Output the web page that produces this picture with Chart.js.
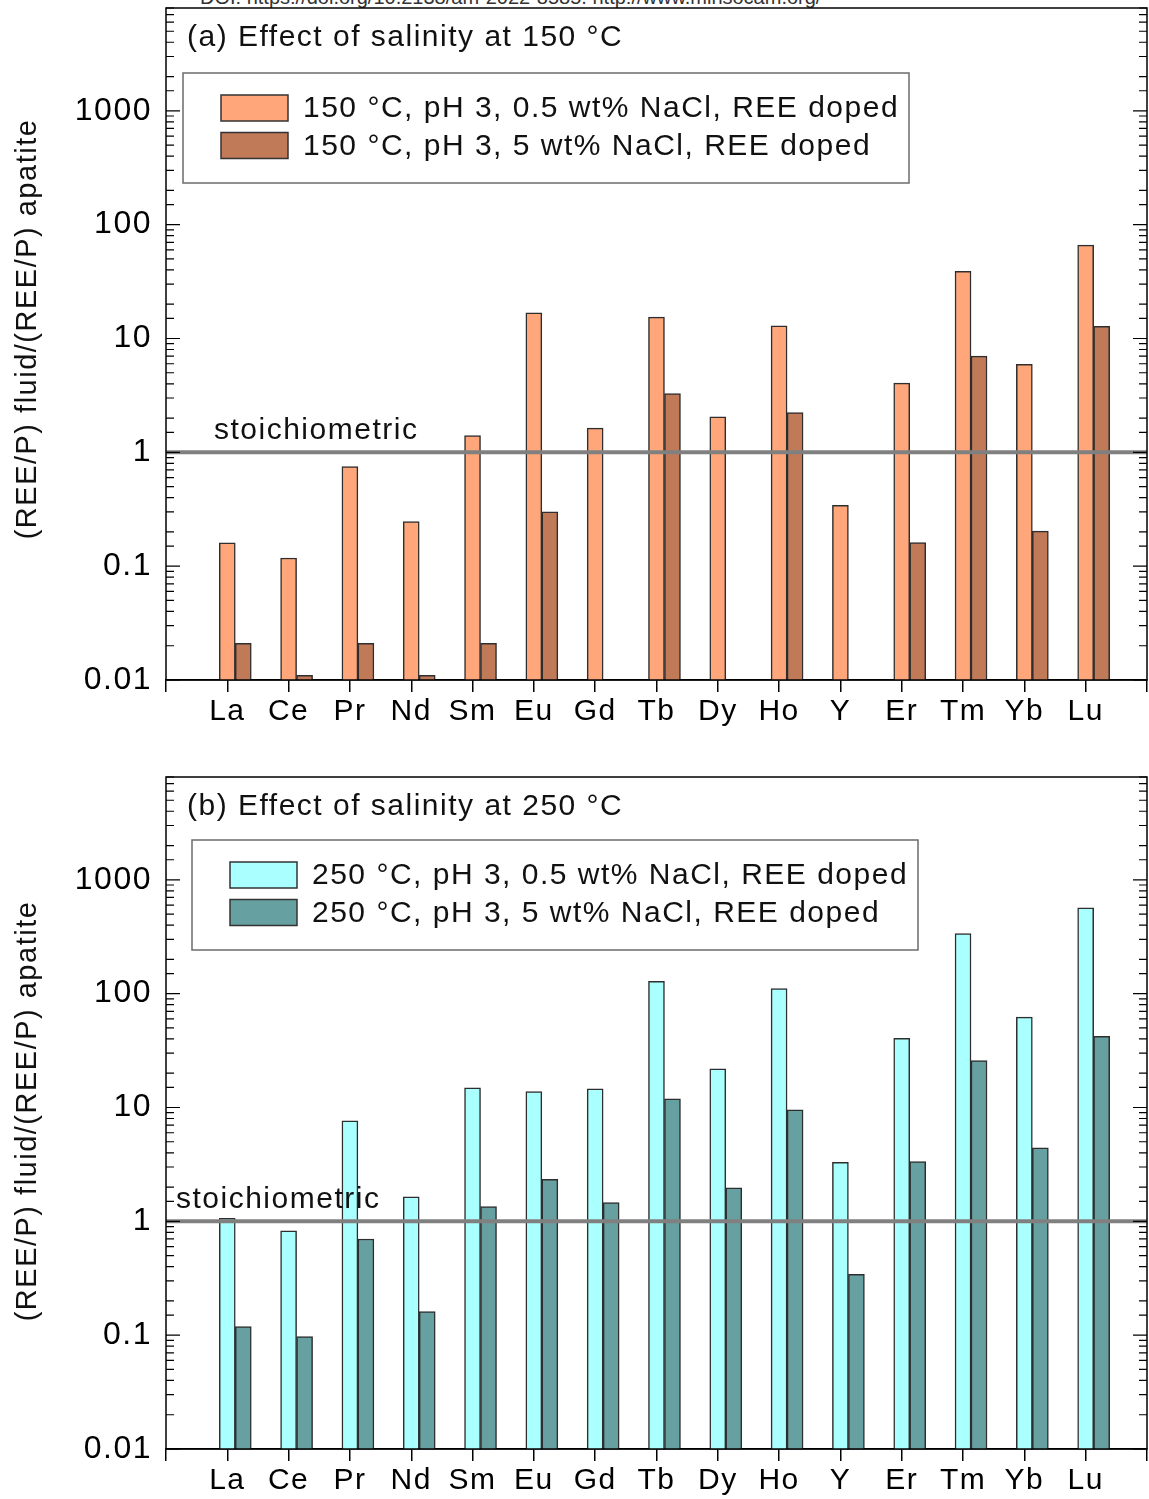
<!DOCTYPE html>
<html lang="en">
<head>
<meta charset="UTF-8">
<title>REE/P fluid-apatite: effect of salinity</title>
<script src="https://cdn.jsdelivr.net/npm/chart.js"></script>
<style>
  body { margin: 0; background: #fff; }
  #doi { position: absolute; left: 200px; top: -14px; font: 20px "Liberation Sans", Arial, sans-serif; color: #333; white-space: nowrap; }
  canvas { position: absolute; left: 0; }
</style>
</head>
<body>
<div id="doi">DOI: https://doi.org/10.2138/am-2022-8585. http://www.minsocam.org/</div>
<canvas id="chartA" width="1149" height="769" style="top:0"></canvas>
<canvas id="chartB" width="1149" height="730" style="top:769px"></canvas>
<script>
// categories
const elements = ['La', 'Ce', 'Pr', 'Nd', 'Sm', 'Eu', 'Gd', 'Tb', 'Dy', 'Ho', 'Y', 'Er', 'Tm', 'Yb', 'Lu'];

// (a) 150 °C  (null = no bar)
const low150  = [0.16, 0.118, 0.75, 0.247, 1.40, 16.8, 1.63, 15.4, 2.05, 12.9, 0.342, 4.05, 38.9, 5.94, 66];
const high150 = [0.021, 0.011, 0.021, 0.011, 0.021, 0.30, null, 3.28, null, 2.23, null, 0.161, 7.0, 0.203, 12.8];

// (b) 250 °C
const low250  = [1.06, 0.823, 7.64, 1.64, 14.9, 13.8, 14.6, 128, 21.9, 111, 3.30, 40.5, 337, 62.1, 567];
const high250 = [0.119, 0.097, 0.70, 0.161, 1.35, 2.34, 1.46, 11.9, 1.97, 9.55, 0.343, 3.35, 25.8, 4.43, 42.1];

const yTitle = '(REE/P) fluid/(REE/P) apatite';

const FONT = '"Liberation Sans", Arial, Helvetica, sans-serif';
const BAR_W = 16;
const PAIR_SHIFT = 0.13; // first bar of each pair sits on the tick, second one to its right

Chart.defaults.color = '#000';
Chart.defaults.font.family = FONT;

function pts(vals) {
    return vals.map((v, i) => ({ x: i + 1 + PAIR_SHIFT, y: v }));
}

function isDecade(v) {
    const l = Math.log10(v);
    return Math.abs(l - Math.round(l)) < 1e-6;
}

// title, legend box, stoichiometric line, frame and inward ticks
const decor = {
    id: 'decor',
    beforeUpdate(chart) { chart.ctx.letterSpacing = '1.5px'; },
    beforeDraw(chart) { chart.ctx.letterSpacing = '1.5px'; },
    afterDatasetsDraw(chart, args, o) {
        const { ctx, chartArea: a, scales: { y } } = chart;
        ctx.save();
        ctx.letterSpacing = '1.5px';

        // ratio = 1 line
        const y1 = y.getPixelForValue(1);
        ctx.strokeStyle = '#808080';
        ctx.lineWidth = 4;
        ctx.beginPath();
        ctx.moveTo(a.left, y1);
        ctx.lineTo(a.right, y1);
        ctx.stroke();
        ctx.fillStyle = '#111';
        ctx.font = '30px ' + FONT;
        ctx.textBaseline = 'alphabetic';
        ctx.fillText('stoichiometric', a.left + o.stoichDx, y1 - 13);

        // frame
        ctx.strokeStyle = '#000';
        ctx.lineWidth = 1.5;
        ctx.strokeRect(a.left, a.top, a.right - a.left, a.bottom - a.top);

        // inward ticks on both sides
        ctx.lineWidth = 1.2;
        y.ticks.forEach(t => {
            const p = y.getPixelForValue(t.value);
            if (p < a.top - 0.5 || p > a.bottom + 0.5) return;
            const len = isDecade(t.value) ? 14 : 8;
            ctx.beginPath();
            ctx.moveTo(a.left, p); ctx.lineTo(a.left + len, p);
            ctx.moveTo(a.right, p); ctx.lineTo(a.right - len, p);
            ctx.stroke();
        });

        // panel title
        ctx.fillStyle = '#111';
        ctx.fillText(o.title, a.left + 21, a.top + 38);

        // y axis title
        ctx.save();
        ctx.translate(28, (a.top + a.bottom) / 2 + o.yTitleDy);
        ctx.rotate(-Math.PI / 2);
        ctx.font = '29px ' + FONT;
        ctx.textAlign = 'center';
        ctx.textBaseline = 'middle';
        ctx.fillText(yTitle, 0, 0);
        ctx.restore();

        // legend
        const bx = a.left + o.legendDx, by = a.top + o.legendDy, bw = 726, bh = 110;
        ctx.fillStyle = '#fff';
        ctx.fillRect(bx, by, bw, bh);
        ctx.strokeStyle = '#6b6b6b';
        ctx.lineWidth = 1.5;
        ctx.strokeRect(bx, by, bw, bh);
        chart.data.datasets.forEach((ds, i) => {
            const cy = by + 35 + i * 37.5;
            ctx.fillStyle = ds.backgroundColor;
            ctx.fillRect(bx + 38, cy - 13, 67, 26);
            ctx.strokeStyle = '#333';
            ctx.strokeRect(bx + 38, cy - 13, 67, 26);
            ctx.fillStyle = '#111';
            ctx.textBaseline = 'middle';
            ctx.fillText(ds.label, bx + 120, cy + 1);
        });
        ctx.restore();
    }
};

function makePanel(id, low, high, labels, colors, opts) {
    return new Chart(document.getElementById(id), {
        type: 'bar',
        data: {
            datasets: [
                { label: labels[0], data: pts(low), backgroundColor: colors[0] },
                { label: labels[1], data: pts(high), backgroundColor: colors[1] }
            ]
        },
        options: {
            responsive: false,
            animation: false,
            devicePixelRatio: 1,
            layout: { padding: { top: 8, right: 2, left: 0, bottom: 0 } },
            datasets: {
                bar: { barThickness: BAR_W, borderColor: '#2e2e2e', borderWidth: 1.5 }
            },
            scales: {
                x: {
                    type: 'linear',
                    min: 0,
                    max: elements.length + 1,
                    offset: false,
                    afterBuildTicks: s => {
                        s.ticks = Array.from({ length: elements.length + 2 }, (_, i) => ({ value: i }));
                    },
                    ticks: {
                        autoSkip: false,
                        maxRotation: 0,
                        padding: 2,
                        font: { size: 30 },
                        callback: v => elements[v - 1] || ''
                    },
                    grid: { offset: false, drawOnChartArea: false, drawTicks: true, tickLength: 12, color: '#000', lineWidth: 1.5 },
                    border: { display: true, color: '#000', width: 1.5 },
                    afterFit: s => { s.height = opts.xAxisH; s.paddingLeft = 0; s.paddingRight = 0; }
                },
                y: {
                    type: 'logarithmic',
                    min: 0.01,
                    max: 8000,
                    ticks: {
                        autoSkip: false,
                        padding: 6,
                        font: { size: 32 },
                        callback: v => isDecade(v) ? String(v) : ''
                    },
                    grid: { display: false },
                    border: { display: false },
                    afterFit: s => { s.width = 166; s.paddingTop = 0; s.paddingBottom = 0; }
                }
            },
            plugins: {
                legend: { display: false },
                tooltip: { enabled: false },
                decor: opts
            }
        },
        plugins: [decor]
    });
}

makePanel('chartA', low150, high150,
    ['150 °C, pH 3, 0.5 wt% NaCl, REE doped', '150 °C, pH 3, 5 wt% NaCl, REE doped'],
    ['#ffa77b', '#c07a58'],
    { title: '(a) Effect of salinity at 150 °C', stoichDx: 48, legendDx: 17, legendDy: 65, xAxisH: 89, yTitleDy: -15 });

makePanel('chartB', low250, high250,
    ['250 °C, pH 3, 0.5 wt% NaCl, REE doped', '250 °C, pH 3, 5 wt% NaCl, REE doped'],
    ['#aaffff', '#66a0a0'],
    { title: '(b) Effect of salinity at 250 °C', stoichDx: 10, legendDx: 26, legendDy: 63, xAxisH: 50, yTitleDy: -2 });
</script>
</body>
</html>
